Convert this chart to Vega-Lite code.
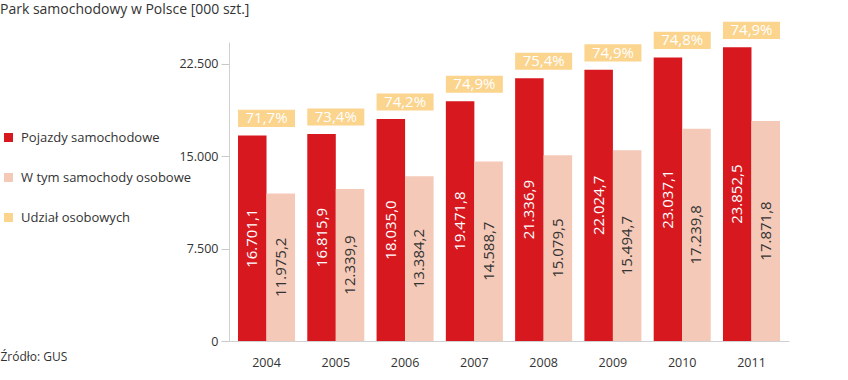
{
  "$schema": "https://vega.github.io/schema/vega-lite/v6.json",
  "width": 560,
  "height": 299,
  "autosize": {"type": "none"},
  "padding": {"left": 229, "top": 42, "right": 59, "bottom": 39},
  "background": "white",
  "config": {
    "locale": {"number": {"decimal": ",", "thousands": ".", "grouping": [3], "currency": ["", " zł"]}},
    "font": "Open Sans",
    "view": {"stroke": null}
  },
  "title": {
    "text": "Park samochodowy w Polsce [000 szt.]",
    "anchor": "start",
    "frame": "group",
    "dx": -229,
    "offset": -6,
    "baseline": "alphabetic",
    "fontSize": 14,
    "fontWeight": "normal",
    "color": "#333333",
    "font": "Open Sans"
  },
  "data": {
    "values": [
      {"year": "2004", "series": "Pojazdy samochodowe", "value": 16701.1, "share": 0.717},
      {"year": "2004", "series": "W tym samochody osobowe", "value": 11975.2},
      {"year": "2005", "series": "Pojazdy samochodowe", "value": 16815.9, "share": 0.734},
      {"year": "2005", "series": "W tym samochody osobowe", "value": 12339.9},
      {"year": "2006", "series": "Pojazdy samochodowe", "value": 18035.0, "share": 0.742},
      {"year": "2006", "series": "W tym samochody osobowe", "value": 13384.2},
      {"year": "2007", "series": "Pojazdy samochodowe", "value": 19471.8, "share": 0.749},
      {"year": "2007", "series": "W tym samochody osobowe", "value": 14588.7},
      {"year": "2008", "series": "Pojazdy samochodowe", "value": 21336.9, "share": 0.754},
      {"year": "2008", "series": "W tym samochody osobowe", "value": 15079.5},
      {"year": "2009", "series": "Pojazdy samochodowe", "value": 22024.7, "share": 0.749},
      {"year": "2009", "series": "W tym samochody osobowe", "value": 15494.7},
      {"year": "2010", "series": "Pojazdy samochodowe", "value": 23037.1, "share": 0.748},
      {"year": "2010", "series": "W tym samochody osobowe", "value": 17239.8},
      {"year": "2011", "series": "Pojazdy samochodowe", "value": 23852.5, "share": 0.749},
      {"year": "2011", "series": "W tym samochody osobowe", "value": 17871.8}
    ]
  },
  "resolve": {"scale": {"y": "independent"}},
  "layer": [
    {
      "mark": {"type": "bar"},
      "encoding": {
        "x": {
          "field": "year", "type": "ordinal",
          "scale": {"type": "band", "paddingInner": 0.177, "paddingOuter": 0.13},
          "axis": {
            "title": "Źródło: GUS", "titleX": -229, "titleY": 15, "titleAlign": "left",
            "titleBaseline": "middle", "titleFontWeight": "normal", "titleFontSize": 12,
            "titleColor": "#333333", "labelAngle": 0, "ticks": false, "labelPadding": 15,
            "labelFontSize": 12.5, "labelColor": "#333333", "domainColor": "#d0d0d0"
          }
        },
        "xOffset": {
          "field": "series", "type": "nominal",
          "scale": {"domain": ["Pojazdy samochodowe", "W tym samochody osobowe"], "paddingInner": 0, "paddingOuter": 0}
        },
        "y": {
          "field": "value", "type": "quantitative",
          "scale": {"domain": [0, 24287], "nice": false, "zero": true},
          "axis": {
            "values": [0, 7500, 15000, 22500], "format": ",.0f", "title": null, "grid": false,
            "domainColor": "#d0d0d0", "tickColor": "#c8c8c8", "tickSize": 8, "labelPadding": 3,
            "labelFontSize": 12.5, "labelColor": "#333333"
          }
        },
        "color": {
          "field": "series", "type": "nominal",
          "scale": {
            "domain": ["Pojazdy samochodowe", "W tym samochody osobowe", "Udział osobowych"],
            "range": ["#d7181f", "#f5c9b7", "#fbd48e"]
          },
          "legend": {
            "orient": "none", "legendX": -227, "legendY": 89, "title": null,
            "symbolType": "square", "symbolSize": 81, "symbolStrokeWidth": 0,
            "labelFontSize": 13, "labelColor": "#333333", "rowPadding": 26, "labelOffset": 6,
            "labelLimit": 0
          }
        }
      }
    },
    {
      "transform": [{"filter": "datum.series === 'Pojazdy samochodowe'"}],
      "mark": {"type": "text", "angle": 270, "color": "white", "fontSize": 15, "align": "center", "baseline": "middle"},
      "encoding": {
        "x": {"field": "year", "type": "ordinal"},
        "xOffset": {"field": "series", "type": "nominal"},
        "y": {"field": "value", "type": "quantitative", "scale": {"domain": [0, 48574], "nice": false}, "axis": null},
        "text": {"field": "value", "type": "quantitative", "format": ",.1f"}
      }
    },
    {
      "transform": [{"filter": "datum.series === 'W tym samochody osobowe'"}],
      "mark": {"type": "text", "angle": 270, "color": "#333333", "fontSize": 15, "align": "center", "baseline": "middle"},
      "encoding": {
        "x": {"field": "year", "type": "ordinal"},
        "xOffset": {"field": "series", "type": "nominal"},
        "y": {"field": "value", "type": "quantitative", "scale": {"domain": [0, 48574], "nice": false}, "axis": null},
        "text": {"field": "value", "type": "quantitative", "format": ",.1f"}
      }
    },
    {
      "transform": [{"filter": "datum.series === 'Pojazdy samochodowe'"}],
      "mark": {"type": "point", "shape": "M-1,-0.3H1V0.3H-1Z", "filled": true, "opacity": 1, "color": "#fbd48e", "size": 3249, "yOffset": -17},
      "encoding": {
        "x": {"field": "year", "type": "ordinal"},
        "y": {"field": "value", "type": "quantitative", "scale": {"domain": [0, 24287], "nice": false}, "axis": null}
      }
    },
    {
      "transform": [{"filter": "datum.series === 'Pojazdy samochodowe'"}],
      "mark": {"type": "text", "color": "white", "fontSize": 15, "align": "center", "baseline": "middle", "yOffset": -17},
      "encoding": {
        "x": {"field": "year", "type": "ordinal"},
        "y": {"field": "value", "type": "quantitative", "scale": {"domain": [0, 24287], "nice": false}, "axis": null},
        "text": {"field": "share", "type": "quantitative", "format": ".1%"}
      }
    }
  ]
}
